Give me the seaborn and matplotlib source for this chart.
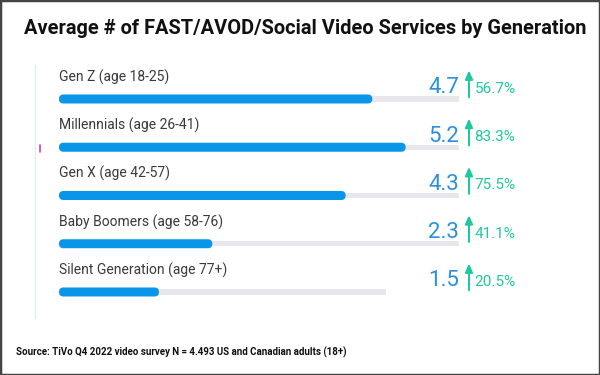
import matplotlib.pyplot as plt
import seaborn as sns
import pandas as pd
from matplotlib.patches import FancyBboxPatch, Rectangle
from matplotlib.lines import Line2D

# Data
generations = ["Gen Z (age 18-25)", "Millennials (age 26-41)", "Gen X (age 42-57)",
               "Baby Boomers (age 58-76)", "Silent Generation (age 77+)"]
averages = [4.7, 5.2, 4.3, 2.3, 1.5]
growth = ["56.7%", "83.3%", "75.5%", "41.1%", "20.5%"]
track = [6.0, 6.0, 6.0, 6.0, 4.9]

df = pd.DataFrame({"generation": generations, "average": averages, "track": track})

sns.set_style("white")
plt.rcParams['font.family'] = ['Roboto', 'DejaVu Sans']

blue = "#0a96e8"
val_blue = "#2b8fe2"
teal = "#1fc8a0"

fig = plt.figure(figsize=(6, 3.75), dpi=100)
ax = fig.add_axes([59 / 600, 1 - 315 / 375, 400 / 600, 255 / 375])

# gray tracks, then blue bars
sns.barplot(data=df, x="track", y="generation", orient="h", color="#e8e8ec",
            width=0.105, saturation=1, linewidth=0, ax=ax)
n_track = len(ax.patches)
sns.barplot(data=df, x="average", y="generation", orient="h", color=blue,
            width=0.187, saturation=1, linewidth=0, ax=ax)

# round the blue bars
r = 0.0675
for p in ax.patches[n_track:]:
    x0, y0, w, h = p.get_x(), p.get_y(), p.get_width(), p.get_height()
    p.set_visible(False)
    ax.add_patch(FancyBboxPatch((x0, y0), w, h,
                                boxstyle=f"round,pad=0,rounding_size={r}",
                                mutation_aspect=(h / 2) / r,
                                fc=blue, ec="none", zorder=3))

ax.set_xlim(0, 6)
ax.set_ylim(4.477, -0.808)
ax.axis("off")

for i, (g, v, pct) in enumerate(zip(generations, averages, growth)):
    ax.text(0, i - 0.45, g, fontsize=10, color="#3a3a3a", va="center", ha="left",
            clip_on=False)
    ax.text(6.0, i - 0.23, f"{v}", fontsize=16, color=val_blue, va="center", ha="right",
            clip_on=False)
    ax.annotate("", xy=(6.15, i - 0.65), xytext=(6.15, i + 0.02),
                arrowprops=dict(arrowstyle="-|>,head_width=0.22,head_length=0.5",
                                color=teal, lw=1.5), annotation_clip=False)
    ax.text(6.23, i - 0.21, pct, fontsize=11, color=teal, va="center", ha="left",
            clip_on=False)

# faint left rule and little magenta tick
fig.add_artist(Line2D([35 / 600, 35 / 600], [1 - 65 / 375, 1 - 318 / 375],
                      color="#e3ecf0", lw=1))
fig.add_artist(Line2D([40 / 600, 40 / 600], [1 - 145 / 375, 1 - 152 / 375],
                      color="#d040b0", lw=1.2))

fig.text(0.04, 0.923, "Average # of FAST/AVOD/Social Video Services by Generation",
         fontsize=14.4, fontweight="bold", color="#111111", va="center", ha="left")
fig.text(0.027, 0.061, "Source: TiVo Q4 2022 video survey N = 4.493 US and Canadian adults (18+)",
         fontsize=7, fontweight="bold", color="#111111", va="center", ha="left")

# outer frame
fig.add_artist(Rectangle((0, 0), 1, 1, transform=fig.transFigure, fill=False,
                         ec="#444444", lw=2.5))

fig.savefig("out.png", dpi=100)
